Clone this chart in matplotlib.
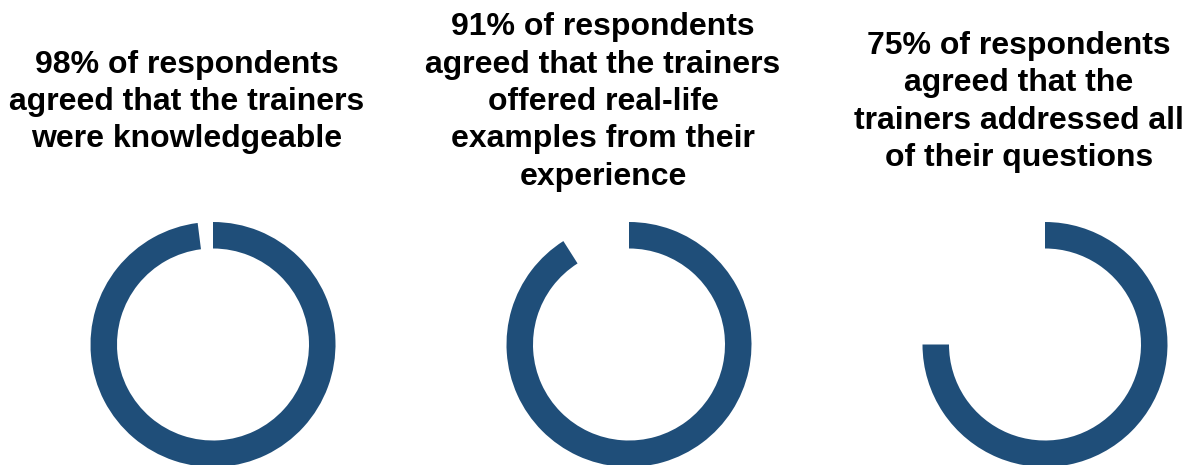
import matplotlib.pyplot as plt

# survey results: share of respondents who agreed
percents = [98, 91, 75]
titles = [
    "98% of respondents\nagreed that the trainers\nwere knowledgeable",
    "91% of respondents\nagreed that the trainers\noffered real-life\nexamples from their\nexperience",
    "75% of respondents\nagreed that the\ntrainers addressed all\nof their questions",
]

color = '#1f4e79'
W, H = 1190, 465

fig = plt.figure(figsize=(W / 100, H / 100), dpi=100)
ax = fig.add_axes([0, 0, 1, 1])

radius = 122.5
ring = 26.5
cy = H - 344.5

for i, (pct, title) in enumerate(zip(percents, titles)):
    cx = 213 + 416 * i
    ax.pie([pct, 100 - pct], colors=[color, 'none'], startangle=90,
           counterclock=False, center=(cx, cy), radius=radius,
           wedgeprops=dict(width=ring, linewidth=0), frame=True)
    ax.text(cx - 26, H - 102, title, ha='center', va='center',
            fontsize=23, fontweight='bold', family='Liberation Sans',
            linespacing=1.32, color='black')

ax.set_xlim(0, W)
ax.set_ylim(0, H)
ax.axis('off')
ax.set_aspect('auto')

fig.savefig('out.png', dpi=100)
